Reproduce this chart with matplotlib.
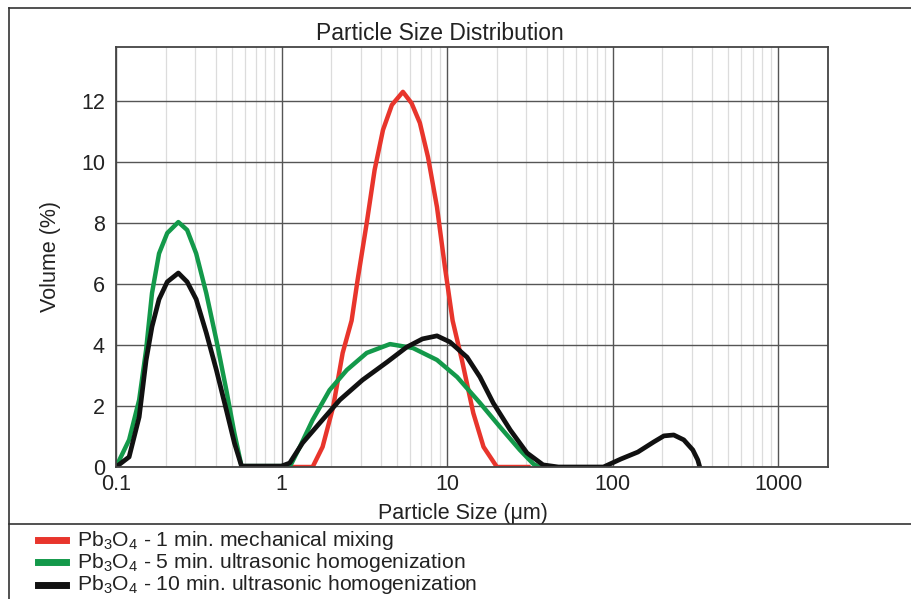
import matplotlib
matplotlib.use("Agg")
import matplotlib.pyplot as plt
from matplotlib.ticker import LogLocator, FixedLocator, NullFormatter
from matplotlib.lines import Line2D

plt.rcParams['font.family'] = ['Liberation Sans', 'DejaVu Sans']

# Data (particle size in µm, volume %)
red_x = [1.0, 1.54, 1.77, 2.05, 2.34, 2.65, 2.88, 3.27, 3.65, 4.1, 4.64, 5.41, 6.1, 6.85, 7.67,
         8.69, 9.7, 10.8, 12.3, 14.4, 16.6, 20.0, 31.0]
red_y = [0.0, 0.0, 0.66, 1.97, 3.74, 4.8, 6.13, 8.0, 9.74, 11.05, 11.87, 12.3, 11.93, 11.28, 10.16,
         8.52, 6.56, 4.8, 3.5, 1.77, 0.66, 0.0, 0.0]

green_x = [0.1, 0.120, 0.138, 0.152, 0.165, 0.182, 0.204, 0.238, 0.269, 0.305, 0.351, 0.404, 0.464,
           0.519, 0.573, 1.0,
           1.12, 1.29, 1.54, 1.95, 2.48, 3.27, 4.52, 6.22, 8.69, 11.5, 15.8, 20.9, 27.5, 33.2, 36.0]
green_y = [0.0, 0.89, 2.2, 3.84, 5.7, 7.0, 7.67, 8.03, 7.77, 7.0, 5.7, 4.16, 2.52,
           1.11, 0.03, 0.03,
           0.0, 0.66, 1.54, 2.52, 3.18, 3.74, 4.03, 3.9, 3.51, 2.95, 2.1, 1.31, 0.56, 0.1, 0.0]

black_x = [0.1, 0.120, 0.138, 0.152, 0.165, 0.182, 0.204, 0.238, 0.269, 0.305, 0.351, 0.404, 0.464,
           0.519, 0.573, 1.0,
           1.12, 1.34, 1.70, 2.25, 3.08, 4.34, 5.7, 7.1, 8.69, 10.4, 13.2, 15.8, 19.0, 24.1, 30.4,
           38.0, 47.0, 88.0, 112.0, 142.0, 177.0, 204.0, 234.0, 269.0, 305.0, 327.0, 336.0]
black_y = [0.0, 0.33, 1.64, 3.5, 4.6, 5.5, 6.07, 6.36, 6.07, 5.5, 4.4, 3.18, 1.87,
           0.79, 0.03, 0.03,
           0.13, 0.79, 1.44, 2.2, 2.85, 3.44, 3.93, 4.2, 4.3, 4.1, 3.6, 2.95, 2.1, 1.21, 0.46,
           0.07, 0.0, 0.0, 0.26, 0.49, 0.82, 1.02, 1.05, 0.89, 0.56, 0.23, 0.0]

labels = [r"Pb$\mathregular{_3}$O$\mathregular{_4}$ - 1 min. mechanical mixing",
          r"Pb$\mathregular{_3}$O$\mathregular{_4}$ - 5 min. ultrasonic homogenization",
          r"Pb$\mathregular{_3}$O$\mathregular{_4}$ - 10 min. ultrasonic homogenization"]
colors = ['#e8352c', '#13994a', '#111111']

x_ticks = [0.1, 1, 10, 100, 1000]
x_ticklabels = ['0.1', '1', '10', '100', '1000']
y_ticks = [0, 2, 4, 6, 8, 10, 12]

W, H = 912, 599
fig = plt.figure(figsize=(W/100, H/100), dpi=100)

# outer frame and legend separator
fig.add_artist(Line2D([9/W, 9/W], [0, 1 - 8/H], color='#333333', lw=1.2, transform=fig.transFigure))
fig.add_artist(Line2D([9/W, 1], [1 - 8/H, 1 - 8/H], color='#333333', lw=1.2, transform=fig.transFigure))
fig.add_artist(Line2D([9/W, 1], [1 - 524/H, 1 - 524/H], color='#333333', lw=1.2, transform=fig.transFigure))

ax = fig.add_axes([116/W, 1 - 467/H, (828 - 116)/W, (467 - 47)/H])
ax.set_xscale('log')
ax.set_xlim(0.1, 2000)
ax.set_ylim(0, 13.77)

ax.xaxis.set_major_locator(FixedLocator(x_ticks))
ax.set_xticklabels(x_ticklabels)
ax.xaxis.set_minor_locator(LogLocator(base=10, subs=range(2, 10)))
ax.xaxis.set_minor_formatter(NullFormatter())
ax.set_yticks(y_ticks)

ax.grid(which='minor', axis='x', color='#dcdcdc', lw=0.9)
ax.grid(which='major', axis='x', color='#555555', lw=1.0)
ax.grid(which='major', axis='y', color='#555555', lw=1.0)
ax.set_axisbelow(True)
ax.tick_params(which='both', length=0, labelsize=15.5, colors='#222222')
ax.tick_params(axis='x', pad=5)
ax.tick_params(axis='y', pad=8)
for s in ax.spines.values():
    s.set_color('#444444')
    s.set_linewidth(1.3)

ax.plot(red_x, red_y, color=colors[0], lw=3.2, solid_joinstyle='round')
ax.plot(green_x, green_y, color=colors[1], lw=3.2, solid_joinstyle='round')
ax.plot(black_x, black_y, color=colors[2], lw=3.4, solid_joinstyle='round')

ax.set_title('Particle Size Distribution', fontsize=16.5, color='#222222', pad=5,
             x=(440 - 116) / (828 - 116))
ax.set_xlabel('Particle Size (μm)', fontsize=15.5, color='#222222', labelpad=3)
ax.xaxis.set_label_coords((463 - 116) / (828 - 116), -0.085)
ax.set_ylabel('Volume (%)', fontsize=15.5, color='#222222', labelpad=14)

# legend rows
ys = [540, 562, 585]
for lab, c, yy in zip(labels, colors, ys):
    fig.add_artist(Line2D([38/W, 66/W], [1 - yy/H, 1 - yy/H], color=c, lw=5, transform=fig.transFigure))
    fig.text(77/W, 1 - yy/H, lab, fontsize=15.2, color='#222222', va='center', ha='left')

fig.savefig('out.png', dpi=100)
